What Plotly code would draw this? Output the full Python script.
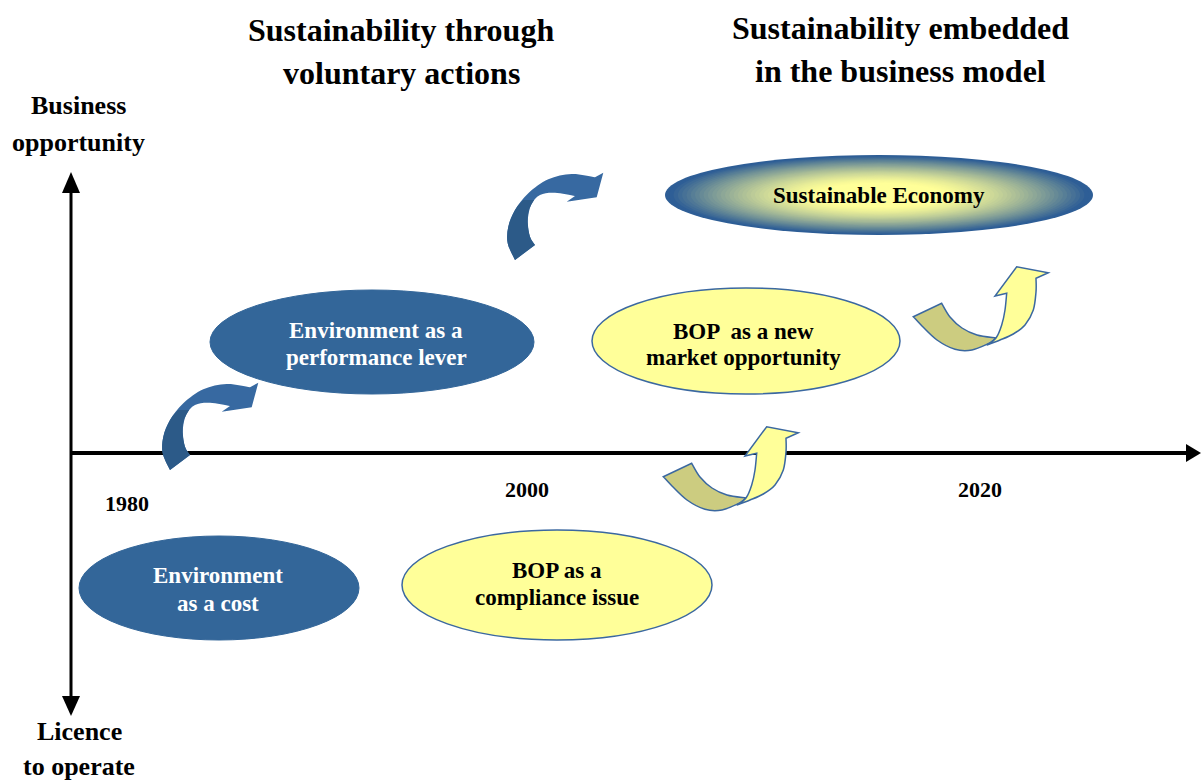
import plotly.graph_objects as go

# ---------------- content ----------------
title_left = ["Sustainability through", "voluntary actions"]
title_right = ["Sustainability embedded", "in the business model"]
axis_top = ["Business", "opportunity"]
axis_bottom = ["Licence", "to operate"]
years = ["1980", "2000", "2020"]
blue_ellipse_labels = [["Environment", "as a cost"], ["Environment as a", "performance lever"]]
yellow_ellipse_labels = [["BOP as a", "compliance issue"], ["BOP  as a new", "market opportunity"]]
center_label = "Sustainable Economy"

# ---------------- layout geometry (pixel space) ----------------
W, H = 1201, 781
FONT = "Liberation Serif, Times New Roman, serif"
BLUE = "#336699"
YELLOW = "#FFFF99"
OLIVE = "#CCCC80"
EDGE = "#3B68A0"

title_left_pos = [(401, 30), (401, 73)]
title_right_pos = [(900, 28), (900, 71)]
axis_top_pos = [(78, 105), (78, 142)]
axis_bottom_pos = [(79, 731), (79, 766)]
year_pos = [(127, 503), (527, 489), (980, 489)]
blue_ellipses = [(219, 588, 140, 52), (372, 342, 162, 52)]
blue_text_pos = [[(218, 575), (218, 603)], [(376, 330), (376, 357)]]
yellow_ellipses = [(557, 585, 155, 55), (746, 341, 154, 53)]
yellow_text_pos = [[(557, 570), (557, 597)], [(743, 331), (743, 357)]]
center_ellipse = (879, 195, 214, 40)

shapes = []
annotations = []


def smooth(pts):
    s = ""
    n = len(pts)
    for i in range(n - 1):
        p0 = pts[i - 1] if i > 0 else pts[i]
        p1 = pts[i]
        p2 = pts[i + 1]
        p3 = pts[i + 2] if i + 2 < n else pts[i + 1]
        c1 = (p1[0] + (p2[0] - p0[0]) / 6, p1[1] + (p2[1] - p0[1]) / 6)
        c2 = (p2[0] - (p3[0] - p1[0]) / 6, p2[1] - (p3[1] - p1[1]) / 6)
        s += f" C {c1[0]:.1f},{c1[1]:.1f} {c2[0]:.1f},{c2[1]:.1f} {p2[0]:.1f},{p2[1]:.1f}"
    return s


def build(segs, dx, dy):
    path = ""
    first = True
    for kind, pts in segs:
        pts = [(x + dx, y + dy) for x, y in pts]
        if first:
            path += f"M {pts[0][0]:.1f},{pts[0][1]:.1f}"
            first = False
        else:
            path += f" L {pts[0][0]:.1f},{pts[0][1]:.1f}"
        if kind == "C":
            path += smooth(pts)
        else:
            for p in pts[1:]:
                path += f" L {p[0]:.1f},{p[1]:.1f}"
    return path + " Z"


# ---------------- axes ----------------
shapes.append(dict(type="line", x0=71, x1=1190, y0=453, y1=453, line=dict(color="black", width=4)))
shapes.append(dict(type="path", path="M 1186,444 L 1201,453 L 1186,462 Z", fillcolor="black", line=dict(width=0)))
shapes.append(dict(type="line", x0=71, x1=71, y0=188, y1=700, line=dict(color="black", width=3)))
shapes.append(dict(type="path", path="M 62,193 L 71,172 L 80,193 Z", fillcolor="black", line=dict(width=0)))
shapes.append(dict(type="path", path="M 62,696 L 71,716 L 80,696 Z", fillcolor="black", line=dict(width=0)))

# ---------------- ellipses ----------------
for cx, cy, rx, ry in blue_ellipses:
    shapes.append(dict(type="circle", x0=cx - rx, x1=cx + rx, y0=cy - ry, y1=cy + ry,
                       fillcolor=BLUE, line=dict(color=BLUE, width=1)))
for cx, cy, rx, ry in yellow_ellipses:
    shapes.append(dict(type="circle", x0=cx - rx, x1=cx + rx, y0=cy - ry, y1=cy + ry,
                       fillcolor=YELLOW, line=dict(color=EDGE, width=1.5)))

# radial gradient ellipse
cx, cy, rx, ry = center_ellipse
yel = (255, 255, 153)
blu = (46, 94, 150)
N = 50
for k in range(N, 0, -1):
    t = k / N
    s = min(1.0, max(0.0, (t - 0.3) / 0.68))
    s = s ** 1.4
    c = tuple(int(yel[j] + (blu[j] - yel[j]) * s) for j in range(3))
    shapes.append(dict(type="circle", x0=cx - rx * t, x1=cx + rx * t, y0=cy - ry * t, y1=cy + ry * t,
                       fillcolor=f"rgb{c}", line=dict(width=0)))

# ---------------- curved arrows ----------------
blue_arrow = [
    ("C", [(170, 470), (162.7, 453.3), (163.3, 436.7), (170, 420), (183.3, 403.3), (203.3, 389.3), (226.7, 384), (250, 387.3)]),
    ("L", [(258.3, 382.7), (251.7, 407.3), (221.7, 411.7), (230, 406)]),
    ("C", [(230, 406), (210, 402.7), (195, 405), (186, 415), (182.7, 431.7), (185, 446.7), (190, 455)]),
]
blue_arrow_dark = [
    ("C", [(170, 470), (162.7, 453.3), (163.3, 436.7), (170, 420), (178, 410)]),
    ("C", [(189, 410), (184, 420), (182.7, 431.7), (185, 446.7), (190, 455)]),
]
for dx, dy in [(0, 0), (345, -210)]:
    shapes.append(dict(type="path", path=build(blue_arrow, dx, dy), fillcolor="#3769A1", line=dict(width=0)))
    shapes.append(dict(type="path", path=build(blue_arrow_dark, dx, dy), fillcolor="#2C5A88", line=dict(width=0)))

olive_part = [
    ("L", [(663.3, 476.7), (691.7, 463.3)]),
    ("C", [(691.7, 463.3), (700, 477), (712, 488), (727, 495), (746, 498)]),
    ("C", [(740, 503), (722, 510), (705, 509.3), (687, 500), (672, 486), (663.3, 476.7)]),
]
yellow_part = [
    ("C", [(736.7, 505), (746, 498), (751.7, 485), (755, 470), (756.7, 453.3)]),
    ("L", [(745, 456), (766.7, 426.7), (798.3, 432.7), (786, 438.3)]),
    ("C", [(786, 438.3), (786, 452), (783.3, 470), (775, 485), (763.3, 494), (750, 500), (736.7, 505)]),
]
for dx, dy in [(0, 0), (250, -160)]:
    shapes.append(dict(type="path", path=build(olive_part, dx, dy), fillcolor=OLIVE, line=dict(color=EDGE, width=1.5)))
    shapes.append(dict(type="path", path=build(yellow_part, dx, dy), fillcolor=YELLOW, line=dict(color=EDGE, width=1.5)))


# ---------------- text ----------------
def label(text, pos, size, color="black"):
    annotations.append(dict(x=pos[0], y=pos[1], text=f"<b>{text}</b>", showarrow=False,
                            xanchor="center", yanchor="middle",
                            font=dict(family=FONT, size=size, color=color)))


for t, p in zip(title_left, title_left_pos):
    label(t, p, 32)
for t, p in zip(title_right, title_right_pos):
    label(t, p, 32)
for t, p in zip(axis_top, axis_top_pos):
    label(t, p, 26)
for t, p in zip(axis_bottom, axis_bottom_pos):
    label(t, p, 26)
for t, p in zip(years, year_pos):
    label(t, p, 22)
for lines, poss in zip(blue_ellipse_labels, blue_text_pos):
    for t, p in zip(lines, poss):
        label(t, p, 23, "white")
for lines, poss in zip(yellow_ellipse_labels, yellow_text_pos):
    for t, p in zip(lines, poss):
        label(t, p, 23)
label(center_label, (cx, cy), 23)

fig = go.Figure()
fig.update_layout(
    width=W, height=H,
    margin=dict(l=0, r=0, t=0, b=0),
    paper_bgcolor="white", plot_bgcolor="white",
    xaxis=dict(range=[0, W], visible=False, fixedrange=True),
    yaxis=dict(range=[H, 0], visible=False, fixedrange=True),
    shapes=shapes, annotations=annotations, showlegend=False,
)
fig.write_html("out.html", config={"displayModeBar": False},
               post_script="document.body.style.margin='0';document.body.style.overflow='hidden';")
